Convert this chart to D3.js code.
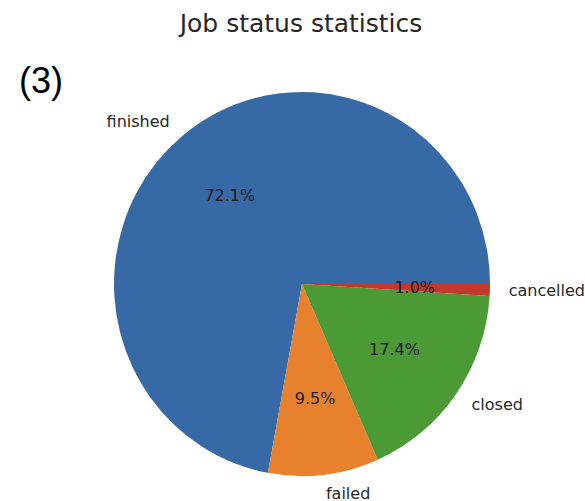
<!DOCTYPE html>
<html><head><meta charset="utf-8">
<script src="https://cdn.jsdelivr.net/npm/d3@7"></script>
<style>body{margin:0;background:#fff}svg{display:block}</style>
</head><body>
<script>
const categories = ["finished", "failed", "closed", "cancelled"];
const values = [72.1, 9.5, 17.4, 1.0];
const colors = ["#3769a6", "#e8812d", "#4b9a36", "#c0392b"];
const titleText = "Job status statistics";
const panelLabel = "(3)";

const W = 585, H = 501;
const cx = 302, cy = 284, R = 188, RY = 192;

const svg = d3.select("body").append("svg").attr("width", W).attr("height", H);

const data = categories.map((c, i) => ({name: c, value: values[i], color: colors[i]}));
const total = d3.sum(values);

// matplotlib style: start at 3 o'clock, counterclockwise
const pie = d3.pie().value(d => d.value).sort(null)
  .startAngle(Math.PI / 2).endAngle(Math.PI / 2 - 2 * Math.PI);
const arcs = pie(data);
const arc = d3.arc().innerRadius(0).outerRadius(R);

const root = svg.append("g").attr("transform", `translate(${cx},${cy})`);
const g = root.append("g").attr("transform", `scale(1,${RY / R})`);
g.selectAll("path").data(arcs).join("path")
  .attr("d", arc).attr("fill", d => d.data.color);

const font = "'DejaVu Sans', sans-serif";
arcs.forEach(a => {
  const mid = (a.startAngle + a.endAngle) / 2; // d3 angle: clockwise from 12
  const sx = Math.sin(mid), sy = -Math.cos(mid);
  root.append("text")
    .attr("x", sx * R * 1.1).attr("y", sy * RY * 1.1)
    .attr("text-anchor", sx > 0 ? "start" : "end")
    .attr("dominant-baseline", "central")
    .style("font-family", font).style("font-size", "16px").attr("fill", "#262626")
    .text(a.data.name);
  root.append("text")
    .attr("x", sx * R * 0.6).attr("y", sy * RY * 0.6)
    .attr("text-anchor", "middle")
    .attr("dominant-baseline", "central")
    .style("font-family", font).style("font-size", "16px").attr("fill", "#1a1a1a")
    .text((a.data.value / total * 100).toFixed(1) + "%");
});

svg.append("text").attr("x", 301).attr("y", 32).attr("text-anchor", "middle")
  .style("font-family", font).style("font-size", "25px").attr("fill", "#262626")
  .text(titleText);

svg.append("text").attr("x", 19).attr("y", 93)
  .style("font-family", "'Liberation Sans', Arial, sans-serif").style("font-size", "36px").attr("fill", "#000")
  .text(panelLabel);
</script>
</body></html>
